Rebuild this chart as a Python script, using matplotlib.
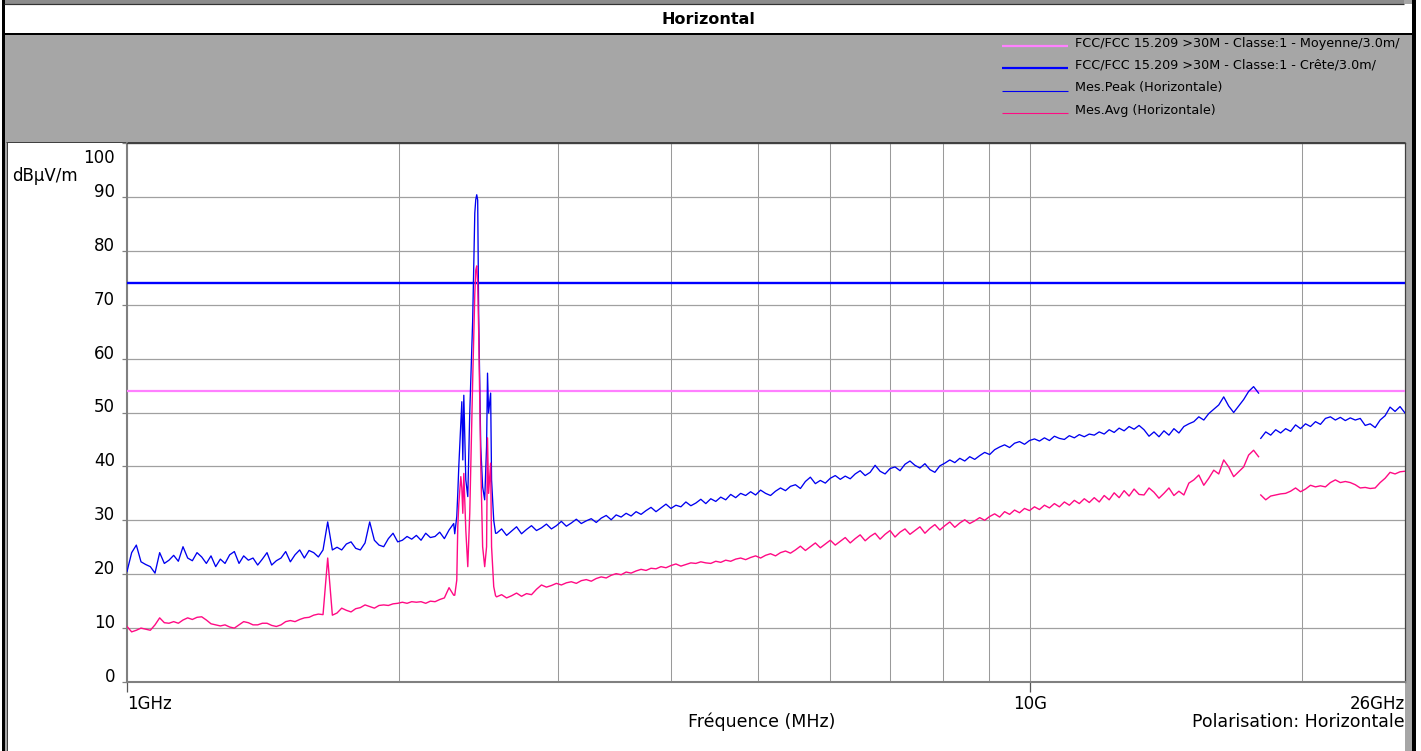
import numpy as np
import matplotlib.pyplot as plt
from matplotlib.patches import Rectangle
from matplotlib.lines import Line2D
from matplotlib.ticker import NullFormatter

# ---- data ----
y_ticks = [0, 10, 20, 30, 40, 50, 60, 70, 80, 90, 100]
limit_freq = [1.0, 26.0]
limit_avg = [54.0, 54.0]     # FCC 15.209 Moyenne
limit_peak = [74.0, 74.0]    # FCC 15.209 Crete

# sweep 1 GHz -> 2.30 GHz
peak_a = [20.5, 24.0, 25.4, 22.3, 21.8, 21.4, 20.2, 24.0, 22.0, 22.6,
          23.5, 22.4, 25.1, 23.0, 22.5, 24.0, 23.2, 22.0, 23.4, 21.4,
          22.8, 22.0, 23.6, 24.2, 22.0, 23.4, 22.6, 23.0, 21.7, 22.8,
          24.0, 21.7, 22.5, 23.0, 24.2, 22.3, 23.6, 24.5, 23.0, 24.4,
          24.0, 23.2, 24.5, 29.7, 24.5, 25.0, 24.5, 25.6, 26.0, 24.8,
          24.5, 25.8, 29.7, 26.3, 25.4, 25.1, 26.6, 27.6, 26.0, 26.3,
          27.0, 26.5, 27.2, 26.3, 27.6, 26.8, 27.0, 27.8, 26.6, 28.2,
          29.4]
avg_a = [10.3, 9.3, 9.6, 10.0, 9.8, 9.6, 10.6, 11.9, 11.0, 10.9,
         11.2, 10.9, 11.5, 11.9, 11.6, 12.0, 12.1, 11.5, 10.8, 10.6,
         10.4, 10.6, 10.2, 10.0, 10.6, 11.2, 11.0, 10.6, 10.6, 10.9,
         10.9, 10.5, 10.3, 10.6, 11.2, 11.4, 11.2, 11.6, 11.9, 12.0,
         12.4, 12.6, 12.5, 23.0, 12.4, 12.8, 13.7, 13.3, 13.0, 13.6,
         13.8, 14.3, 14.0, 13.7, 14.2, 14.3, 14.2, 14.5, 14.6, 14.8,
         14.6, 14.9, 14.8, 14.9, 14.6, 15.0, 14.9, 15.3, 15.6, 17.5,
         16.1]

# 2.4 GHz band (explicit frequencies, GHz)
burst_freq = [2.306, 2.318, 2.324, 2.330, 2.342, 2.348, 2.354, 2.360, 2.372,
              2.384, 2.396, 2.414, 2.427, 2.433, 2.439, 2.445, 2.451, 2.464,
              2.476, 2.489, 2.501, 2.507, 2.514, 2.527, 2.533, 2.547, 2.559]
peak_burst = [27.5, 30.7, 35.0, 40.0, 48.0, 52.0, 41.2, 53.2, 37.5,
              34.4, 49.9, 67.2, 87.0, 89.5, 90.4, 89.4, 68.4, 43.7,
              36.2, 33.8, 43.7, 57.3, 49.9, 53.6, 37.5, 30.0, 27.6]
avg_burst = [16.1, 18.9, 28.8, 33.0, 38.1, 36.0, 31.3, 38.7, 28.2,
             21.4, 31.3, 56.0, 72.0, 76.4, 77.2, 74.0, 65.3, 40.6,
             25.1, 21.4, 25.1, 45.3, 35.0, 40.6, 25.1, 17.7, 16.0]

# sweep 2.57 GHz -> 17.9 GHz
peak_b = [27.6, 28.4, 27.2, 28.0, 28.8, 27.5, 28.3, 29.0, 28.1, 28.6,
          29.3, 28.4, 29.0, 29.8, 28.9, 29.5, 30.2, 29.4, 29.9, 30.3,
          29.6, 30.4, 30.9, 30.1, 31.0, 30.6, 31.3, 30.8, 31.6, 31.1,
          31.8, 32.4, 31.6, 32.3, 33.0, 32.2, 32.8, 32.5, 33.4, 32.7,
          33.2, 33.9, 33.1, 34.0, 33.5, 34.3, 33.8, 34.8, 34.2, 35.0,
          34.6, 35.3, 34.7, 35.6, 35.0, 34.6, 35.4, 36.0, 35.5, 36.3,
          36.6, 35.9, 37.2, 38.0, 36.8, 37.4, 36.9, 37.8, 38.3, 37.6,
          38.2, 37.7, 38.6, 39.2, 38.3, 38.9, 40.2, 39.1, 38.6, 39.6,
          39.9, 39.2, 40.4, 41.0, 40.2, 39.7, 40.5, 39.4, 38.9, 40.1,
          40.6, 41.2, 40.7, 41.5, 41.0, 41.8, 41.3, 42.0, 42.6, 42.2,
          43.1, 43.6, 44.0, 43.5, 44.3, 44.6, 44.1, 44.8, 45.1, 44.7,
          45.3, 44.8, 45.6, 45.2, 45.0, 45.7, 45.3, 45.9, 45.5, 46.0,
          45.8, 46.4, 46.0, 46.8, 46.3, 47.1, 46.6, 47.4, 46.9, 47.6,
          46.8, 45.6, 46.4, 45.5, 46.6, 45.8, 47.0, 46.2, 47.4, 47.9,
          48.3, 49.2, 48.6, 49.8, 50.6, 51.4, 52.9, 51.2, 50.0, 51.2,
          52.4, 53.9, 54.8, 53.6]
avg_b = [15.8, 16.2, 15.6, 16.0, 16.5, 15.9, 16.4, 16.2, 17.2, 18.0,
         17.6, 17.9, 18.3, 18.0, 18.4, 18.6, 18.3, 18.8, 19.0, 18.7,
         19.2, 19.5, 19.3, 19.8, 20.1, 19.9, 20.4, 20.2, 20.6, 20.9,
         20.7, 21.1, 21.0, 21.4, 21.2, 21.6, 21.9, 21.5, 21.8, 22.1,
         22.0, 22.3, 22.1, 22.0, 22.4, 22.2, 22.6, 22.4, 22.8, 23.0,
         22.7, 23.1, 23.4, 23.0, 23.5, 23.8, 23.4, 24.0, 24.3, 23.9,
         24.5, 25.2, 24.4, 25.1, 25.8, 24.9, 25.6, 26.3, 25.4, 26.1,
         26.8, 25.8, 26.6, 27.3, 26.2, 27.0, 27.6, 26.5, 27.4, 28.1,
         26.9, 27.8, 28.4, 27.4, 28.1, 28.8, 27.6, 28.5, 29.2, 28.2,
         29.0, 29.7, 28.7, 29.5, 30.1, 29.4, 29.9, 30.5, 30.0, 30.7,
         31.2, 30.6, 31.6, 31.1, 31.9, 31.4, 32.2, 31.8, 32.5, 32.0,
         32.8, 32.3, 33.1, 32.5, 33.4, 32.8, 33.7, 33.1, 34.0, 33.3,
         34.2, 33.4, 34.6, 33.8, 35.1, 34.2, 35.5, 34.5, 35.8, 34.8,
         34.7, 36.0, 35.2, 34.1, 35.0, 36.0, 34.6, 35.4, 34.7, 36.9,
         37.5, 38.4, 36.5, 37.8, 39.3, 38.6, 41.2, 39.9, 38.1, 39.0,
         39.9, 42.1, 43.0, 41.8]

# sweep 18 GHz -> 26 GHz
peak_c = [45.2, 46.4, 45.8, 46.8, 46.2, 47.0, 46.5, 47.7, 47.0, 47.9,
          47.4, 48.3, 47.8, 48.9, 49.2, 48.6, 49.1, 48.5, 49.0, 48.6,
          48.9, 47.6, 47.9, 47.2, 48.6, 49.4, 51.0, 50.2, 51.1, 49.9]
avg_c = [34.7, 33.8, 34.5, 34.7, 34.9, 35.0, 35.4, 36.0, 35.3, 35.8,
         36.5, 36.2, 36.4, 36.2, 37.0, 37.5, 37.0, 37.2, 37.0, 36.6,
         36.0, 36.1, 35.9, 36.0, 37.0, 37.8, 38.9, 38.6, 39.0, 39.1]

legend_labels = ["FCC/FCC 15.209 >30M - Classe:1 - Moyenne/3.0m/",
                 "FCC/FCC 15.209 >30M - Classe:1 - Crête/3.0m/",
                 "Mes.Peak (Horizontale)",
                 "Mes.Avg (Horizontale)"]

C_LIM_AVG = '#ff80ff'
C_LIM_PK = '#0000ff'
C_PK = '#0000f0'
C_AVG = '#ff0a84'
GRAY = '#a6a6a6'

W, H = 1421, 751
fig = plt.figure(figsize=(W / 100, H / 100), dpi=100, facecolor=GRAY)


def fx(x):
    return x / W


def fy(y):
    return 1 - y / H


def box(x0, y0, x1, y1, color, z=-5):
    fig.add_artist(Rectangle((fx(x0), fy(y1)), (x1 - x0) / W, (y1 - y0) / H,
                             transform=fig.transFigure, facecolor=color,
                             edgecolor='none', zorder=z))


def seg(x0, y0, x1, y1, color, lw, z=-4):
    fig.add_artist(Line2D([fx(x0), fx(x1)], [fy(y0), fy(y1)],
                          transform=fig.transFigure, color=color,
                          lw=lw * 0.72, zorder=z, solid_capstyle='butt'))


# frame pieces
box(0, 0, 2, H, 'white')
box(1416, 0, W, H, 'white')
box(4, 0, 1404, 3.5, '#8c8c8c')
box(4.5, 4, 1411.5, 33, 'white')
box(2, 33, 1416, 35, 'black')
box(2, 0, 4.5, H, 'black')
box(1411.5, 0, 1416, H, 'black')
seg(4, 3.5, 1404, 3.5, '#333333', 1.2)
box(7, 142, 1405, H, 'white')
seg(6.5, 141.5, 6.5, H, '#404040', 1)
seg(6, 141.5, 1405, 141.5, '#404040', 1)

fig.text(fx(708), fy(19.5), 'Horizontal', ha='center', va='center',
         fontsize=11.5, fontweight='bold')

# legend
leg_rows = [43, 65.5, 88, 110.5]
leg_styles = [(C_LIM_AVG, 2.2), (C_LIM_PK, 2.2), (C_PK, 1.1), (C_AVG, 1.1)]
for yy, lab, (col, lw) in zip(leg_rows, legend_labels, leg_styles):
    seg(1002, yy + 2.5, 1068, yy + 2.5, col, lw)
    fig.text(fx(1075), fy(yy), lab, ha='left', va='center', fontsize=9.2)

# plot
ax = fig.add_axes([fx(127), fy(682), (1405 - 127) / W, (682 - 143) / H])
ax.set_facecolor('white')
ax.set_xscale('log')
ax.set_xlim(1, 26)
ax.set_ylim(0, 100)

ax.plot(limit_freq, limit_avg, color=C_LIM_AVG, lw=1.6, zorder=3)
ax.plot(limit_freq, limit_peak, color=C_LIM_PK, lw=1.7, zorder=3)

fa = np.geomspace(1.0, 2.30, len(peak_a))
fb = np.geomspace(2.566, 17.9, len(peak_b))
fc = np.geomspace(18.0, 26.0, len(peak_c))
peak_f = np.concatenate([fa, burst_freq, fb])
peak_v = np.concatenate([peak_a, peak_burst, peak_b])
avg_f = np.concatenate([np.geomspace(1.0, 2.30, len(avg_a)), burst_freq,
                        np.geomspace(2.566, 17.9, len(avg_b))])
avg_v = np.concatenate([avg_a, avg_burst, avg_b])

ax.plot(peak_f, peak_v, color=C_PK, lw=0.95, zorder=4)
ax.plot(fc, peak_c, color=C_PK, lw=0.95, zorder=4)
ax.plot(avg_f, avg_v, color=C_AVG, lw=1.0, zorder=4)
ax.plot(np.geomspace(18.0, 26.0, len(avg_c)), avg_c, color=C_AVG, lw=1.0, zorder=4)

ax.set_xticks([1, 10])
ax.set_xticklabels(['', ''])
ax.set_xticks([2, 3, 4, 5, 6, 7, 8, 9, 20], minor=True)
ax.xaxis.set_minor_formatter(NullFormatter())
ax.tick_params(axis='x', which='major', length=7.5, width=0.9,
               color='#555555', direction='out')
ax.tick_params(axis='x', which='minor', length=0)
ax.set_yticks(y_ticks)
ax.set_yticklabels([])
ax.tick_params(axis='y', length=3.6, width=0.9, color='#808080')
ax.grid(True, which='both', axis='x', color='#9a9a9a', lw=0.75)
ax.grid(True, which='major', axis='y', color='#a0a0a0', lw=0.9)
ax.set_axisbelow(True)

for s in ['left', 'bottom']:
    ax.spines[s].set_color('#808080')
    ax.spines[s].set_linewidth(1.5)
for s in ['top', 'right']:
    ax.spines[s].set_color('#404040')
    ax.spines[s].set_linewidth(0.9)

ytr = ax.get_yaxis_transform()
for v in y_ticks:
    if v == 100:
        ax.annotate(str(v), xy=(0, v), xycoords=ytr, xytext=(-8.6, -4.0),
                    textcoords='offset points', ha='right', va='top',
                    fontsize=12, annotation_clip=False)
    else:
        ax.annotate(str(v), xy=(0, v), xycoords=ytr, xytext=(-8.6, 0),
                    textcoords='offset points', ha='right', va='baseline',
                    fontsize=12, annotation_clip=False)

xtr = ax.get_xaxis_transform()
for xv, lab, ha in [(1, '1GHz', 'left'), (10, '10G', 'center'), (26, '26GHz', 'right')]:
    ax.annotate(lab, xy=(xv, 0), xycoords=xtr, xytext=(0, -15.8),
                textcoords='offset points', ha=ha, va='center', fontsize=12,
                annotation_clip=False)
ax.annotate('Polarisation: Horizontale', xy=(26, 0), xycoords=xtr,
            xytext=(0, -28.8), textcoords='offset points', ha='right',
            va='center', fontsize=12.5, annotation_clip=False)

fig.text(fx(762), fy(722), 'Fréquence (MHz)', ha='center', va='center',
         fontsize=12.5)
fig.text(fx(12), fy(176), 'dBµV/m', ha='left', va='center', fontsize=12)

fig.savefig('out.png', dpi=100, facecolor=fig.get_facecolor())
